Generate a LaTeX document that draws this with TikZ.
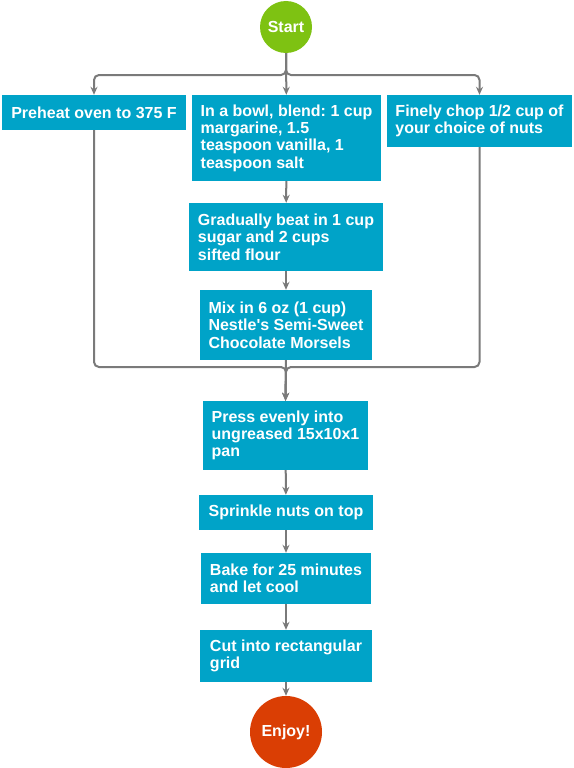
\documentclass[tikz,border=0pt]{standalone}
\usepackage{fontspec}
\setmainfont{Liberation Sans}[Ligatures=TeXOff]
\usetikzlibrary{arrows.meta}
\frenchspacing
\definecolor{boxblue}{RGB}{0,163,200}
\definecolor{startgreen}{RGB}{126,194,18}
\definecolor{endred}{RGB}{218,62,4}
\definecolor{linegray}{RGB}{122,122,122}
\begin{document}
\begin{tikzpicture}[x=1pt,y=-1pt,
  stepbox/.style={fill=boxblue, text=white, font=\bfseries\fontsize{16}{17.3}\selectfont, align=left, inner xsep=8pt, inner ysep=0pt},
  term/.style={circle, text=white, font=\bfseries\fontsize{16}{18}\selectfont, inner sep=0pt},
  conn/.style={draw=linegray, line width=2pt, -{Stealth[length=8pt,width=7pt]}, rounded corners=5pt}]
\useasboundingbox (0,0) rectangle (573,768);
\node[term, fill=startgreen, minimum size=52pt] (start) at (286,27) {Start};
\node[stepbox, minimum width=184pt, minimum height=35pt] (b1) at (94,112.5) {Preheat oven to 375 F};
\node[stepbox, minimum width=189pt, minimum height=86pt] (b2) at (286.5,138) {In a bowl, blend: 1 cup\\margarine, 1.5\\teaspoon vanilla, 1\\teaspoon salt};
\node[stepbox, minimum width=183pt, minimum height=52pt] (b3) at (479.5,121) {Finely chop 1/2 cup of\\your choice of nuts};
\node[stepbox, minimum width=194pt, minimum height=68pt] (b4) at (286,237) {Gradually beat in 1 cup\\sugar and 2 cups\\sifted flour};
\node[stepbox, minimum width=172pt, minimum height=70pt] (b5) at (286,325) {Mix in 6 oz (1 cup)\\Nestle's Semi-Sweet\\Chocolate Morsels};
\node[stepbox, minimum width=165pt, minimum height=69pt] (b6) at (285.5,435.5) {Press evenly into\\ungreased 15x10x1\\pan};
\node[stepbox, minimum width=174pt, minimum height=35pt] (b7) at (286,512.5) {Sprinkle nuts on top};
\node[stepbox, minimum width=170pt, minimum height=51pt] (b8) at (286,578.5) {Bake for 25 minutes\\and let cool};
\node[stepbox, minimum width=172pt, minimum height=52pt] (b9) at (286,656) {Cut into rectangular\\grid};
\node[term, fill=endred, minimum size=72pt] (end) at (286,732) {Enjoy!};
\coordinate (top) at (286,75);
\coordinate (bot) at (286,367);
\draw[conn] (start) -- (b2);
\draw[conn] (start.south) |- (b1.north |- top) -- (b1.north);
\draw[conn] (start.south) |- (b3.north |- top) -- (b3.north);
\draw[conn] (b2) -- (b4);
\draw[conn] (b4) -- (b5);
\draw[conn] (b5) -- (b6);
\draw[conn] (b1.south) |- (bot) -- (b6.north);
\draw[conn] (b3.south) |- (bot) -- (b6.north);
\draw[conn] (b6) -- (b7);
\draw[conn] (b7) -- (b8);
\draw[conn] (b8) -- (b9);
\draw[conn] (b9) -- (end);
\end{tikzpicture}
\end{document}
